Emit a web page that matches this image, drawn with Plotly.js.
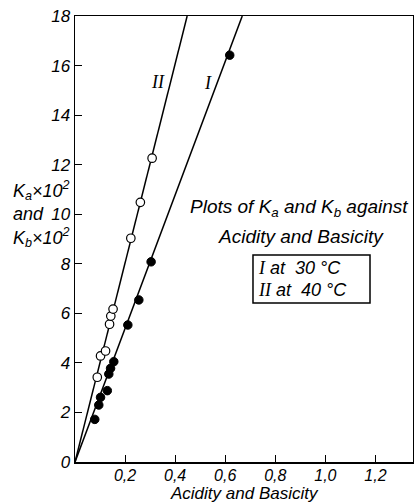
<!DOCTYPE html>
<html>
<head>
<meta charset="utf-8">
<script src="https://cdn.plot.ly/plotly-3.0.1.min.js"></script>
<style>html,body{margin:0;padding:0;background:#fff;}#chart{width:414px;height:504px;}</style>
</head>
<body>
<div id="chart"></div>
<script>
// Series I (30 °C) – filled points
var seriesI_x = [0.079, 0.095, 0.102, 0.129, 0.135, 0.142, 0.155, 0.211, 0.255, 0.304, 0.618];
var seriesI_y = [1.72, 2.30, 2.61, 2.88, 3.55, 3.78, 4.05, 5.53, 6.54, 8.08, 16.42];
// Series II (40 °C) – open points
var seriesII_x = [0.089, 0.102, 0.122, 0.138, 0.143, 0.152, 0.223, 0.261, 0.308];
var seriesII_y = [3.42, 4.28, 4.48, 5.56, 5.89, 6.17, 9.03, 10.48, 12.26];
// Fitted straight lines through the origin
var lineI_x = [0, 0.668];
var lineI_y = [0, 18];
var lineII_x = [0, 0.448];
var lineII_y = [0, 18];
// Tick labels
var xTickVals = [0.2, 0.4, 0.6, 0.8, 1.0, 1.2];
var xTickText = ["0,2", "0,4", "0,6", "0,8", "1,0", "1,2"];
var yTickVals = [0, 2, 4, 6, 8, 10, 12, 14, 16, 18];
var yTickText = ["0", "2", "4", "6", "8", "10", "12", "14", "16", "18"];

var F = "Liberation Sans, Arial, sans-serif";
var S = "Liberation Serif, Times New Roman, serif";
var tf = {family: F, size: 16, color: "#000", style: "italic"};
var af = {family: F, size: 19, color: "#000", style: "italic"};
var bf = {family: F, size: 17, color: "#000", style: "italic"};
var yf = {family: F, size: 18, color: "#000", style: "italic"};
var sf = {family: S, size: 18, color: "#000", style: "italic"};

var traces = [
  {x: lineI_x, y: lineI_y, mode: "lines", line: {color: "#000", width: 1.5}, hoverinfo: "skip"},
  {x: lineII_x, y: lineII_y, mode: "lines", line: {color: "#000", width: 1.5}, hoverinfo: "skip"},
  {x: seriesI_x, y: seriesI_y, mode: "markers",
   marker: {symbol: "circle", size: 8.5, color: "#000", line: {color: "#000", width: 1}}},
  {x: seriesII_x, y: seriesII_y, mode: "markers",
   marker: {symbol: "circle", size: 8.5, color: "#fff", line: {color: "#000", width: 1.2}}}
];

function ann(text, x, y, xa, font, extra) {
  var a = {text: text, xref: "paper", yref: "paper", x: x, y: y, xanchor: xa, yanchor: "middle",
    showarrow: false, font: font};
  if (extra) for (var k in extra) a[k] = extra[k];
  return a;
}

var layout = {
  width: 414, height: 504,
  margin: {l: 75, r: 1, t: 16, b: 42},
  paper_bgcolor: "#fff", plot_bgcolor: "#fff",
  showlegend: false,
  xaxis: {range: [0, 1.35], showgrid: false, zeroline: false, showline: true, mirror: true,
    linecolor: "#000", linewidth: 1.5, ticks: "inside", ticklen: 7, tickwidth: 1, tickcolor: "#000",
    tickvals: xTickVals, ticktext: xTickText, tickfont: tf, ticklabelstandoff: -2},
  yaxis: {range: [0, 18], showgrid: false, zeroline: false, showline: true, mirror: true,
    linecolor: "#000", linewidth: 1.5, ticks: "inside", ticklen: 7, tickwidth: 1, tickcolor: "#000",
    tickvals: yTickVals, ticktext: yTickText, tickfont: {family: F, size: 17, color: "#000", style: "italic"}},
  shapes: [
    {type: "rect", xref: "paper", yref: "paper", x0: 0.5266, x1: 0.8728, y0: 0.3565, y1: 0.4641,
     line: {color: "#000", width: 1.5}, fillcolor: "rgba(0,0,0,0)"}
  ],
  annotations: [
    {text: "Acidity and Basicity", xref: "paper", yref: "paper", x: 0.5, y: -0.0935,
     xanchor: "center", yanchor: "bottom", showarrow: false, font: bf, borderpad: 0},
    ann("K<sub>a</sub>×10<sup>2</sup>", -0.009, 0.608, "right", yf),
    ann("and", -0.19, 0.555, "left", yf),
    ann("K<sub>b</sub>×10<sup>2</sup>", -0.009, 0.503, "right", yf),
    ann("Plots of K<sub>a</sub> and K<sub>b</sub> against", 0.663, 0.5695, "center", af),
    ann("Acidity and Basicity", 0.6697, 0.505, "center", af),
    ann("<span style='font-family:Liberation Serif'>I</span> at  30 °C", 0.535, 0.435, "left", yf),
    ann("<span style='font-family:Liberation Serif'>II</span> at  40 °C", 0.535, 0.3857, "left", yf),
    ann("II", 0.2456, 0.852, "center", sf),
    ann("I", 0.3935, 0.85, "center", sf)
  ]
};

Plotly.newPlot("chart", traces, layout, {displayModeBar: false, staticPlot: true});
</script>
</body>
</html>
